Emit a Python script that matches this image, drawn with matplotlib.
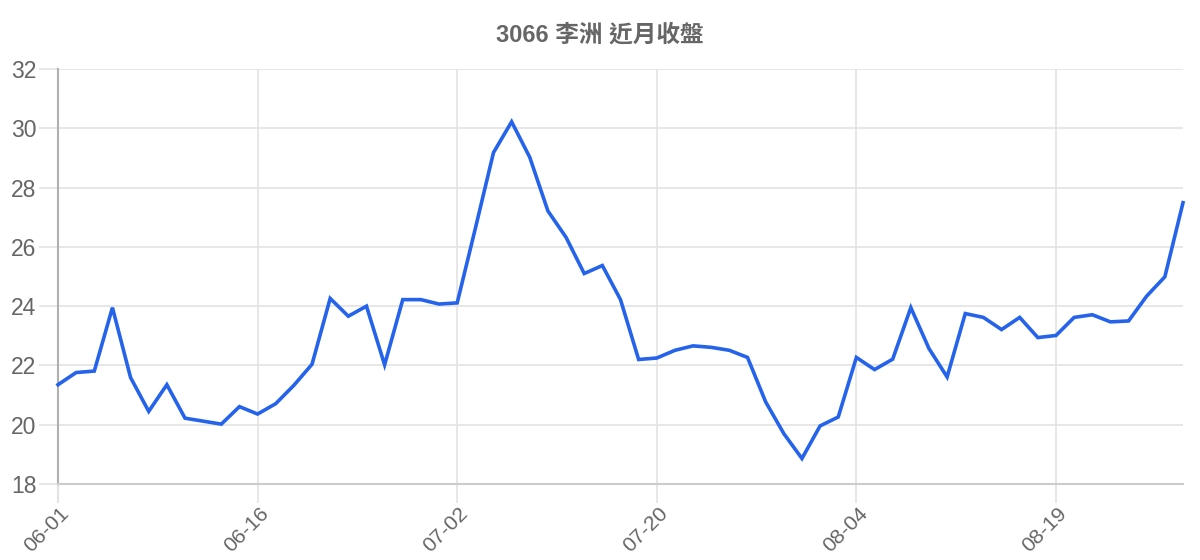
import numpy as np
import matplotlib.pyplot as plt
from matplotlib.transforms import ScaledTranslation

# closing prices, one per trading day
closes = [21.35, 21.76, 21.81, 23.95, 21.59, 20.45, 21.35, 20.22, 20.12, 20.02,
          20.61, 20.36, 20.71, 21.33, 22.04, 24.26, 23.66, 24.00, 22.02, 24.22,
          24.22, 24.07, 24.11, 26.62, 29.18, 30.22, 29.02, 27.21, 26.32, 25.10,
          25.37, 24.22, 22.20, 22.25, 22.51, 22.66, 22.61, 22.51, 22.27, 20.77,
          19.70, 18.86, 19.96, 20.26, 22.27, 21.86, 22.21, 23.95, 22.57, 21.61,
          23.75, 23.62, 23.21, 23.62, 22.94, 23.01, 23.62, 23.71, 23.47, 23.50,
          24.34, 24.99, 27.49]
tick_labels = ['06-01', '06-16', '07-02', '07-20', '08-04', '08-19']
tick_step = 11
title = '3066 李洲 近月收盤'

plt.rcParams['font.family'] = ['Liberation Sans', 'Noto Sans CJK TC', 'DejaVu Sans']

fig = plt.figure(figsize=(12, 5.6), dpi=100)
ax = fig.add_axes([58/1200, 1-484/560, (1183-58)/1200, (484-69)/560])

x = np.arange(len(closes))
ax.plot(x, closes, color='#2563eb', lw=2.6, solid_joinstyle='miter', clip_on=False, zorder=3)

ax.set_xlim(0, len(closes)-1)
ax.set_ylim(18, 32)
ax.set_yticks(np.arange(18, 33, 2))
ax.set_xticks(np.arange(len(tick_labels))*tick_step)
ax.set_xticklabels(tick_labels, rotation=45, ha='right', va='top', rotation_mode='anchor')

ax.grid(True, color='#e3e3e3', lw=1.2)
ax.set_axisbelow(True)
for s in ['top', 'right']:
    ax.spines[s].set_visible(False)
ax.spines['left'].set_color('#b0b0b0')
ax.spines['left'].set_linewidth(1.5)
ax.spines['bottom'].set_color('#cccccc')
ax.spines['bottom'].set_linewidth(1.5)
ax.tick_params(axis='both', length=14, width=1.2, color='#e3e3e3',
               labelsize=16.5, labelcolor='#666666', pad=1.5)
ax.tick_params(axis='x', pad=0, labelsize=15.3)
ax.xaxis.get_major_ticks()[0].tick1line.set_color('#b0b0b0')
ax.xaxis.get_major_ticks()[0].tick1line.set_markeredgewidth(1.5)
ax.yaxis.get_major_ticks()[0].tick1line.set_color('#cccccc')

shift = ScaledTranslation(1.5/100, 0, fig.dpi_scale_trans)
for lab in ax.get_xticklabels():
    lab.set_transform(lab.get_transform() + shift)

fig.text(600/1200, 1-35/560, title, ha='center', va='center', fontsize=17,
         fontweight='bold', color='#666666')

fig.savefig('out.png', dpi=100)
